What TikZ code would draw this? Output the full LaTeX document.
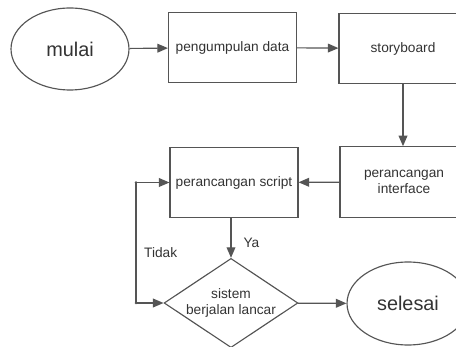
\documentclass[tikz,border=0pt]{standalone}
\usepackage{fontspec}
\setmainfont{Liberation Sans}
\usepackage{xcolor}
\usetikzlibrary{arrows.meta,shapes.geometric}

\definecolor{linegray}{HTML}{555555}
\definecolor{textgray}{HTML}{333333}

\begin{document}
\begin{tikzpicture}[x=0.02cm,y=-0.02cm,
  arr/.style={-{Triangle[length=6pt,width=5pt]},line width=0.65pt,linegray},
  box/.style={draw=linegray,line width=0.65pt,fill=white,inner sep=0pt,
    minimum width=2.56cm,minimum height=1.41cm,align=center,
    text=textgray,font=\fontsize{7.8}{9.4}\selectfont},
  terminal/.style={ellipse,draw=linegray,line width=0.65pt,inner sep=0pt,
    text=textgray,font=\fontsize{11.3}{13}\selectfont},
  decision/.style={diamond,draw=linegray,line width=0.65pt,inner sep=0pt,aspect=1.5,
    minimum width=2.64cm,minimum height=1.76cm,align=center,
    text=textgray,font=\fontsize{7.8}{9.4}\selectfont},
  lbl/.style={text=textgray,font=\fontsize{7.8}{9.4}\selectfont}]
  \useasboundingbox (0,0) rectangle (456,347);
  \clip (0,0) rectangle (456,347);

  % top row
  \node[terminal,minimum width=2.36cm,minimum height=1.64cm] (mulai) at (70,49) {mulai};
  \node[box] (data) at (232.5,47.5) {pengumpulan data};
  \node[box] (story) at (403,48.5) {storyboard};

  % middle row
  \node[box] (interface) at (404,182) {perancangan\\interface};
  \node[box] (script) at (234,182.5) {perancangan script};

  % bottom row
  \node[decision] (cek) at (231,303) {sistem\\berjalan lancar};
  \node[terminal,minimum width=2.44cm,minimum height=1.66cm] (selesai) at (408,303.5) {selesai};

  % loop back
  \coordinate (looptop) at (136,182.5);
  \coordinate (loopbot) at (136,303);

  \draw[arr] (mulai) -- (data);
  \draw[arr] (data) -- (story);
  \draw[arr] (story.south) -- (interface.north -| story.south);
  \draw[arr] (interface) -- (script);
  \draw[arr] (cek.north |- script.south) -- (cek.north)
    node[lbl,pos=0.5,right=3.5pt,yshift=-3pt] {Ya};
  \draw[arr] (cek) -- (selesai);

  \draw[line width=0.65pt,linegray] (looptop) -- (loopbot)
    node[lbl,pos=0.58,right=1pt] {Tidak};
  \draw[arr] (looptop) -- (script.west);
  \draw[arr] (loopbot) -- (cek.west);
  \fill[linegray] (looptop) circle (1.3) (loopbot) circle (1.3);
\end{tikzpicture}
\end{document}
